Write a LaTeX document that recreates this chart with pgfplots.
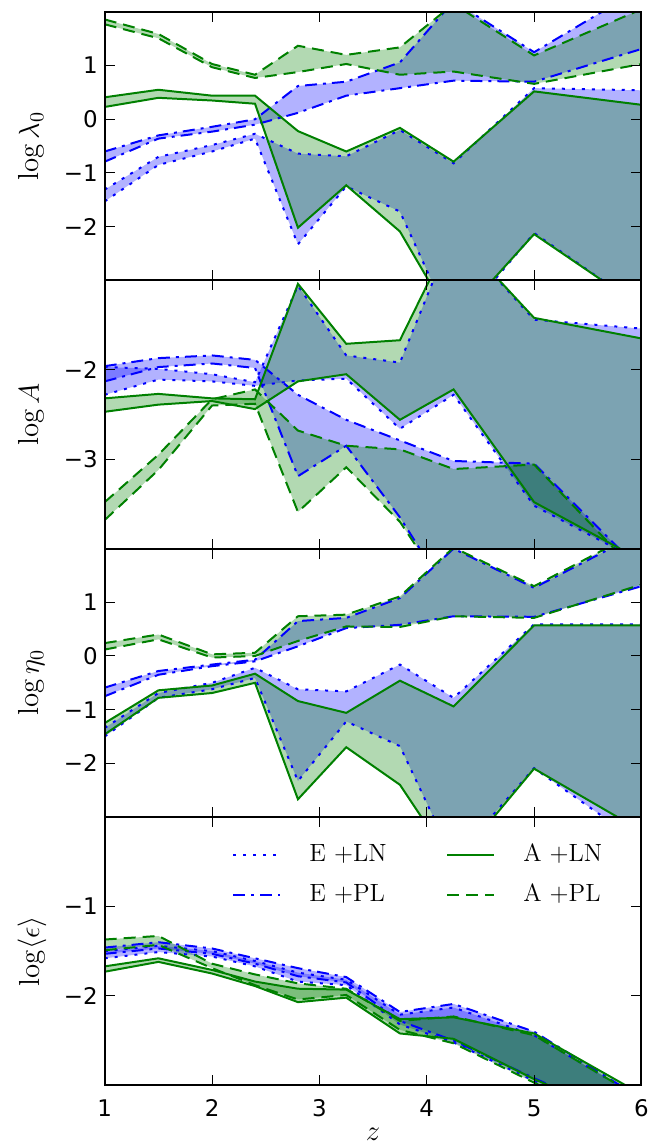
\documentclass[border=0pt]{standalone}
\usepackage{fontspec}
\usepackage{pgfplots}
\usepackage{pgfplotstable}
\pgfplotsset{compat=1.18}
\usepgfplotslibrary{fillbetween}
\newfontfamily\dv{DejaVu Sans}
\definecolor{mblue}{RGB}{0,0,255}
\definecolor{mgreen}{RGB}{0,128,0}
\newcommand{\labfont}{\fontsize{14.5}{17}\selectfont}

% columns: E+LN upper/lower, E+PL upper/lower, A+LN, A+PL
\pgfplotstableread{
z    elnU  elnL  eplU  eplL  alnU  alnL  aplU  aplL
1    -1.31 -1.53 -0.60 -0.79  0.41  0.23  1.86  1.77
1.5  -0.70 -0.85 -0.30 -0.36  0.55  0.40  1.59  1.51
2    -0.48 -0.60 -0.14 -0.23  0.44  0.35  1.03  0.97
2.4  -0.27 -0.36  0.00 -0.10  0.44  0.29  0.83  0.77
2.8  -0.64 -2.33  0.62  0.12 -0.22 -2.02  1.37  0.88
3.25 -0.69 -1.25  0.70  0.44 -0.60 -1.23  1.20  1.03
3.75 -0.20 -1.72  1.06  0.58 -0.16 -2.09  1.34  0.83
4.25 -0.82 -3.90  2.20  0.72 -0.79 -3.80  2.15  0.89
5     0.58 -2.12  1.25  0.70  0.52 -2.14  1.19  0.66
6     0.54 -3.50  2.44  1.31  0.27 -3.50  2.05  1.03
}\tlam

\pgfplotstableread{
z    elnU  elnL  eplU  eplL  alnU  alnL  aplU  aplL
1    -1.97 -2.28 -1.96 -2.13 -2.32 -2.47 -3.48 -3.68
1.5  -1.99 -2.11 -1.87 -1.97 -2.27 -2.39 -2.95 -3.12
2    -2.05 -2.13 -1.84 -1.93 -2.32 -2.35 -2.33 -2.40
2.4  -2.14 -2.18 -1.89 -1.98 -2.33 -2.44 -2.22 -2.38
2.8  -1.06 -2.12 -2.28 -3.19 -1.04 -2.13 -2.68 -3.59
3.25 -1.84 -2.10 -2.56 -2.85 -1.71 -2.05 -2.85 -3.09
3.75 -1.92 -2.66 -2.79 -3.65 -1.67 -2.56 -2.89 -3.70
4.25 -0.45 -2.28 -3.02 -4.60 -0.45 -2.22 -3.11 -4.60
5    -1.44 -3.52 -3.05 -4.60 -1.42 -3.48 -3.06 -4.60
6    -1.54 -4.15 -4.25 -4.80 -1.65 -4.13 -4.32 -4.80
}\tA

\pgfplotstableread{
z    elnU  elnL  eplU  eplL  alnU  alnL  aplU  aplL
1    -1.34 -1.50 -0.59 -0.75 -1.25 -1.46  0.24  0.12
1.5  -0.69 -0.78 -0.28 -0.35 -0.64 -0.78  0.40  0.31
2    -0.50 -0.62 -0.16 -0.19 -0.55 -0.69  0.03 -0.03
2.4  -0.22 -0.41 -0.07 -0.10 -0.33 -0.50  0.06  0.00
2.8  -0.62 -2.33  0.65  0.18 -0.84 -2.67  0.74  0.28
3.25 -0.66 -1.22  0.71  0.52 -1.06 -1.70  0.77  0.55
3.75 -0.16 -1.68  1.08  0.58 -0.46 -2.40  1.11  0.54
4.25 -0.78 -3.80  2.00  0.74 -0.94 -3.90  2.02  0.74
5     0.59 -2.09  1.27  0.73  0.57 -2.10  1.30  0.71
6     0.59 -3.50  2.30  1.30  0.57 -3.26  2.35  1.33
}\teta

\pgfplotstableread{
z    elnU  elnL  eplU  eplL  alnU  alnL  aplU  aplL
1    -1.50 -1.58 -1.46 -1.53 -1.67 -1.73 -1.37 -1.49
1.5  -1.44 -1.51 -1.40 -1.47 -1.58 -1.62 -1.33 -1.43
2    -1.50 -1.56 -1.47 -1.53 -1.71 -1.75 -1.64 -1.69
2.4  -1.61 -1.67 -1.58 -1.64 -1.84 -1.89 -1.76 -1.88
2.8  -1.74 -1.84 -1.69 -1.78 -1.92 -2.07 -1.86 -2.04
3.25 -1.82 -1.88 -1.79 -1.85 -1.93 -2.02 -1.92 -1.99
3.75 -2.21 -2.32 -2.18 -2.28 -2.26 -2.42 -2.28 -2.38
4.25 -2.13 -2.52 -2.09 -2.50 -2.24 -2.48 -2.23 -2.53
5    -2.44 -2.95 -2.40 -2.92 -2.42 -2.93 -2.44 -2.97
6    -3.15 -3.50 -3.15 -3.45 -3.10 -3.45 -3.15 -3.50
}\teps

\tikzset{
  eln/.style={mblue, line width=1pt, dash pattern=on 1.5pt off 3.5pt},
  epl/.style={mblue, line width=1pt, dash pattern=on 6pt off 3pt on 1.5pt off 3pt},
  aln/.style={mgreen, line width=1pt},
  apl/.style={mgreen, line width=1pt, dash pattern=on 6pt off 3.5pt},
}

\pgfplotsset{panel/.style={
  scale only axis, width=269pt, height=134.5pt, anchor=south west,
  xmin=1, xmax=6, xtick={1,2,3,4,5,6}, minor tick num=0,
  tick align=inside, tick pos=both, xticklabel pos=lower, yticklabel pos=left,
  major tick length=5pt, tick style={black, line width=0.5pt},
  axis line style={line width=1pt},
  axis on top, clip bounding box=upper bound,
  ticklabel style={font=\fontsize{11.5}{13}\dv},
  xticklabel style={yshift=-3.7pt},
  every axis y label/.style={at={(axis description cs:-0.1357,0.5)},
    rotate=90, anchor=center, font=\labfont},
  every axis x label/.style={at={(axis description cs:0.5,-0.182)},
    anchor=center, font=\labfont},
}}

% bands of one panel: hidden edges, fills, then the drawn edges
\newcommand{\bands}[2]{
  \addplot[draw=none, name path=a#2] table[x=z,y=elnU]{#1};
  \addplot[draw=none, name path=b#2] table[x=z,y=elnL]{#1};
  \addplot[draw=none, name path=c#2] table[x=z,y=eplU]{#1};
  \addplot[draw=none, name path=d#2] table[x=z,y=eplL]{#1};
  \addplot[draw=none, name path=e#2] table[x=z,y=alnU]{#1};
  \addplot[draw=none, name path=f#2] table[x=z,y=alnL]{#1};
  \addplot[draw=none, name path=g#2] table[x=z,y=aplU]{#1};
  \addplot[draw=none, name path=h#2] table[x=z,y=aplL]{#1};
  \addplot[fill=mblue, fill opacity=0.3] fill between[of=a#2 and b#2];
  \addplot[fill=mblue, fill opacity=0.3] fill between[of=c#2 and d#2];
  \addplot[fill=mgreen, fill opacity=0.3] fill between[of=e#2 and f#2];
  \addplot[fill=mgreen, fill opacity=0.3] fill between[of=g#2 and h#2];
  \addplot[eln] table[x=z,y=elnU]{#1};
  \addplot[eln] table[x=z,y=elnL]{#1};
  \addplot[epl] table[x=z,y=eplU]{#1};
  \addplot[epl] table[x=z,y=eplL]{#1};
  \addplot[aln] table[x=z,y=alnU]{#1};
  \addplot[aln] table[x=z,y=alnL]{#1};
  \addplot[apl] table[x=z,y=aplU]{#1};
  \addplot[apl] table[x=z,y=aplL]{#1};
}

\begin{document}
\begin{tikzpicture}
\path (-52.5pt,-29.5pt) rectangle (274pt,544pt);

\begin{axis}[panel, at={(0,403.5pt)}, ymin=-3, ymax=2,
  ytick={-2,-1,0,1}, yticklabels={−2,−1,0,1}, xticklabels={},
  ylabel={$\log\lambda_0$}]
\bands{\tlam}{p}
\end{axis}

\begin{axis}[panel, at={(0,269pt)}, ymin=-4, ymax=-1,
  ytick={-3,-2}, yticklabels={−3,−2}, xticklabels={},
  ylabel={$\log A$}]
\bands{\tA}{q}
\end{axis}

\begin{axis}[panel, at={(0,134.5pt)}, ymin=-3, ymax=2,
  ytick={-2,-1,0,1}, yticklabels={−2,−1,0,1}, xticklabels={},
  ylabel={$\log\eta_0$}]
\bands{\teta}{r}
\end{axis}

\begin{axis}[panel, at={(0,0)}, ymin=-3, ymax=0,
  ytick={-2,-1}, yticklabels={−2,−1}, xticklabels={1,2,3,4,5,6},
  xlabel={$z$}, ylabel={$\log\langle\epsilon\rangle$},
  legend columns=2, legend cell align=left,
  legend image code/.code={\draw[#1] (0pt,0pt) -- (23.5pt,0pt);},
  legend style={draw=none, fill=none, inner sep=0pt, outer sep=0pt,
    at={(axis description cs:0.238,0.896)}, anchor=north west,
    font=\fontsize{12.5}{15}\selectfont, row sep=10pt,
    nodes={inner sep=0pt, text height=8.5pt, text depth=1.5pt},
    /tikz/every odd column/.append style={column sep=14pt},
    /tikz/every even column/.append style={column sep=30pt}}]
\addlegendimage{eln}\addlegendentry{E +LN}
\addlegendimage{aln}\addlegendentry{A +LN}
\addlegendimage{epl}\addlegendentry{E +PL}
\addlegendimage{apl}\addlegendentry{A +PL}
\bands{\teps}{s}
\end{axis}
\end{tikzpicture}
\end{document}
